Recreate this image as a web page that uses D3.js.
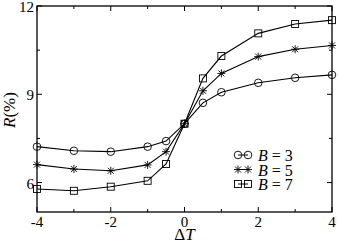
<!DOCTYPE html>
<html><head><meta charset="utf-8">
<script src="https://cdn.jsdelivr.net/npm/d3@7"></script>
<style>body{margin:0;background:#fff}svg{display:block}</style>
</head><body><svg id="c" width="338" height="243"></svg>
<script>
const xValues = [-4, -3, -2, -1, -0.5, 0, 0.5, 1, 2, 3, 4];
const seriesB3 = [7.22, 7.08, 7.05, 7.22, 7.41, 8.0, 8.71, 9.07, 9.39, 9.56, 9.66];
const seriesB5 = [6.61, 6.46, 6.40, 6.60, 7.05, 8.0, 9.12, 9.71, 10.28, 10.53, 10.66];
const seriesB7 = [5.78, 5.72, 5.86, 6.06, 6.63, 8.0, 9.54, 10.30, 11.07, 11.39, 11.52];
const seriesLabels = ["3", "5", "7"];
const seriesShapes = ["circle", "star", "square"];
const xTicks = [-4, -2, 0, 2, 4];
const xMinorTicks = [-3, -1, 1, 3];
const yTicks = [6, 9, 12];
const yMinorTicks = [7.5, 10.5];

const FONT = '"Liberation Serif"';
const svg = d3.select("#c");
const L = 37, R = 332, T = 6, B = 212;
const x = d3.scaleLinear().domain([-4, 4]).range([L, R]);
const y = d3.scaleLinear().domain([5, 12]).range([B, T]);

function txt(px, py, s, size, opts = {}) {
  const t = svg.append("text").style("font-family", FONT).attr("x", px).attr("y", py)
    .attr("font-size", size).attr("fill", "#000").text(s);
  if (opts.italic) t.attr("font-style", "italic");
  if (opts.anchor) t.attr("text-anchor", opts.anchor);
  if (opts.transform) t.attr("transform", opts.transform);
  return t;
}

svg.append("rect").attr("x", L).attr("y", T).attr("width", R - L).attr("height", B - T)
  .attr("fill", "none").attr("stroke", "#000").attr("stroke-width", 1.3);

const g = svg.append("g").attr("stroke", "#000").attr("stroke-width", 1);
function xt(vals, len) {
  vals.forEach(v => {
    g.append("line").attr("x1", x(v)).attr("x2", x(v)).attr("y1", B).attr("y2", B - len);
    g.append("line").attr("x1", x(v)).attr("x2", x(v)).attr("y1", T).attr("y2", T + len);
  });
}
function yt(vals, len) {
  vals.forEach(v => {
    g.append("line").attr("y1", y(v)).attr("y2", y(v)).attr("x1", L).attr("x2", L + len);
    g.append("line").attr("y1", y(v)).attr("y2", y(v)).attr("x1", R).attr("x2", R - len);
  });
}
xt(xTicks, 5); xt(xMinorTicks, 3); yt(yTicks, 5); yt(yMinorTicks, 3);

xTicks.forEach(v => txt(x(v), 227, String(v), 15, { anchor: "middle" }));
yTicks.forEach(v => txt(34, y(v) + 6, String(v), 15, { anchor: "end" }));

{
  const a = txt(0, 240, "Δ", 17);
  const b = txt(0, 240, "T", 17, { italic: true });
  const wa = a.node().getComputedTextLength(), wb = b.node().getComputedTextLength();
  const x0 = x(0) - (wa + wb) / 2;
  a.attr("x", x0); b.attr("x", x0 + wa);
}
{
  const a = txt(0, 0, "R", 17, { italic: true });
  const b = txt(0, 0, "(%)", 17);
  const wa = a.node().getComputedTextLength(), wb = b.node().getComputedTextLength();
  const s0 = -(wa + wb) / 2;
  a.attr("x", s0).attr("transform", "translate(15,110) rotate(-90)");
  b.attr("x", s0 + wa).attr("transform", "translate(15,110) rotate(-90)");
}

const allSeries = [seriesB3, seriesB5, seriesB7];
const line = d3.line().x((d, i) => x(xValues[i])).y(d => y(d));

function marker(sel, shape, cx, cy) {
  if (shape === "circle") {
    sel.append("circle").attr("cx", cx).attr("cy", cy).attr("r", 3.8).attr("fill", "none").attr("stroke", "#000").attr("stroke-width", 0.9);
  } else if (shape === "square") {
    sel.append("rect").attr("x", cx - 3.5).attr("y", cy - 3.5).attr("width", 7).attr("height", 7).attr("fill", "none").attr("stroke", "#000").attr("stroke-width", 0.9);
  } else {
    const s = sel.append("g").attr("transform", `translate(${cx},${cy})`).attr("stroke", "#000").attr("stroke-width", 0.9);
    s.append("line").attr("x1", -4).attr("x2", 4).attr("y1", 0).attr("y2", 0);
    s.append("line").attr("y1", -4).attr("y2", 4).attr("x1", 0).attr("x2", 0);
    s.append("line").attr("x1", -3).attr("x2", 3).attr("y1", -3).attr("y2", 3);
    s.append("line").attr("x1", -3).attr("x2", 3).attr("y1", 3).attr("y2", -3);
  }
}

allSeries.forEach(s => {
  svg.append("path").datum(s).attr("d", line).attr("fill", "none").attr("stroke", "#000").attr("stroke-width", 1.1);
});
allSeries.forEach((s, k) => {
  const mg = svg.append("g");
  s.forEach((v, i) => marker(mg, seriesShapes[k], x(xValues[i]), y(v)));
});

const legendY = [155, 169.5, 184];
seriesLabels.forEach((n, k) => {
  const ly = legendY[k];
  const lg = svg.append("g");
  lg.append("line").attr("x1", 238).attr("x2", 248).attr("y1", ly).attr("y2", ly).attr("stroke", "#000");
  marker(lg, seriesShapes[k], 238, ly);
  marker(lg, seriesShapes[k], 248, ly);
  const a = txt(258, ly + 6, "B", 16, { italic: true });
  const wa = a.node().getComputedTextLength();
  txt(258 + wa + 4, ly + 6, "= " + n, 16);
});
</script></body></html>
